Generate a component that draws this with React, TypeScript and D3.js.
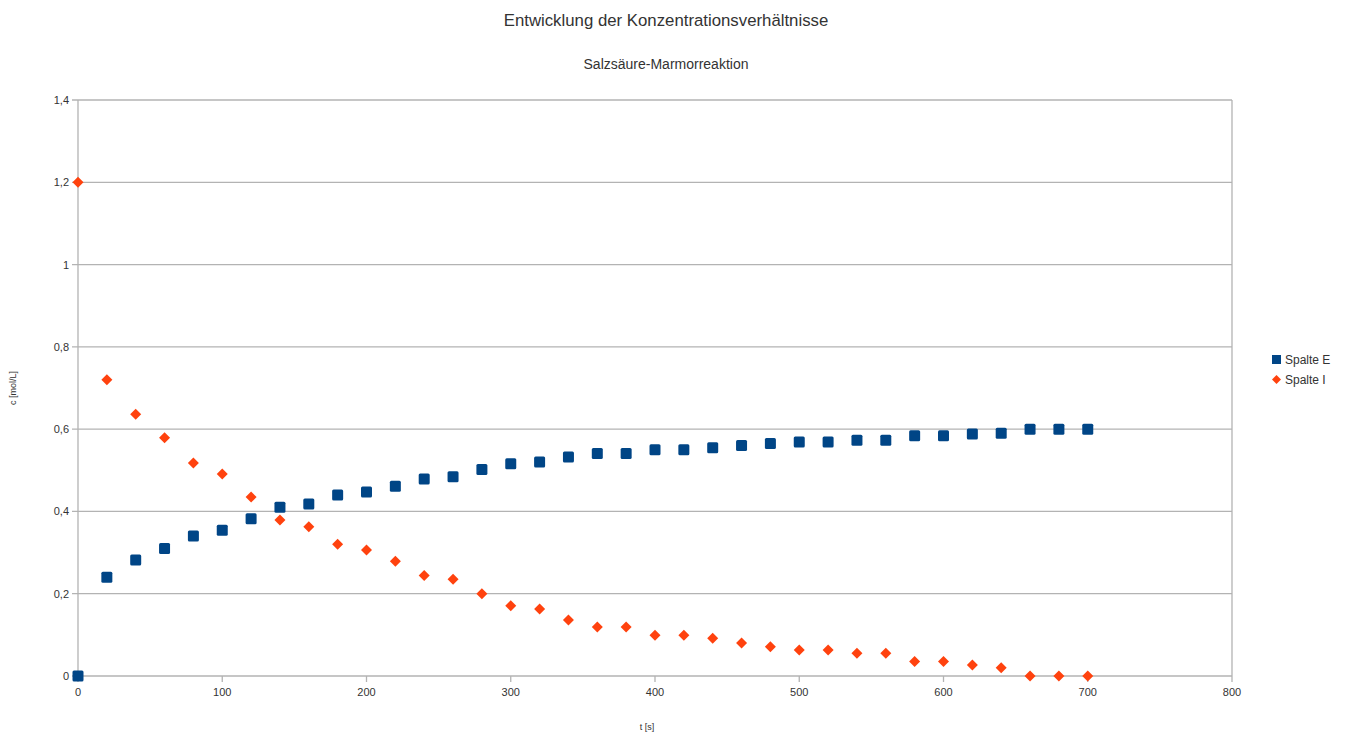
import React from "react";
import * as d3 from "d3";

const times = [
  0, 20, 40, 60, 80, 100, 120, 140, 160, 180, 200, 220, 240, 260, 280, 300,
  320, 340, 360, 380, 400, 420, 440, 460, 480, 500, 520, 540, 560, 580, 600,
  620, 640, 660, 680, 700,
];

// Spalte E
const spalteE = [
  0, 0.24, 0.282, 0.31, 0.34, 0.354, 0.382, 0.41, 0.418, 0.44, 0.447, 0.461,
  0.479, 0.484, 0.502, 0.516, 0.52, 0.532, 0.541, 0.541, 0.55, 0.55, 0.555,
  0.56, 0.565, 0.569, 0.569, 0.573, 0.573, 0.584, 0.584, 0.588, 0.59, 0.6,
  0.6, 0.6,
];

// Spalte I
const spalteI = [
  1.2, 0.72, 0.636, 0.579, 0.518, 0.491, 0.435, 0.379, 0.363, 0.32, 0.306,
  0.279, 0.244, 0.235, 0.2, 0.171, 0.163, 0.136, 0.119, 0.119, 0.099, 0.099,
  0.092, 0.08, 0.071, 0.063, 0.063, 0.055, 0.055, 0.035, 0.035, 0.027, 0.02,
  0, 0, 0,
];

const xTicks = [0, 100, 200, 300, 400, 500, 600, 700, 800];
const yTicks = [0, 0.2, 0.4, 0.6, 0.8, 1, 1.2, 1.4];

const title = "Entwicklung der Konzentrationsverhältnisse";
const subtitle = "Salzsäure-Marmorreaktion";
const xTitle = "t [s]";
const yTitle = "c [mol/L]";
const seriesNames = ["Spalte E", "Spalte I"];

const BLUE = "#004586";
const ORANGE = "#ff420e";
const GRID = "#b3b3b3";

const width = 1347;
const height = 735;
const margin = { top: 100, right: 115, bottom: 59, left: 78 };

const fmt = (v: number) => String(v).replace(".", ",");

export default function App() {
  const x = d3
    .scaleLinear()
    .domain([0, 800])
    .range([margin.left, width - margin.right]);
  const y = d3
    .scaleLinear()
    .domain([0, 1.4])
    .range([height - margin.bottom, margin.top]);

  const diamond = (cx: number, cy: number, r: number) =>
    `M${cx},${cy - r}L${cx + r},${cy}L${cx},${cy + r}L${cx - r},${cy}Z`;

  const font = "'Liberation Sans', Arial, sans-serif";
  const sq = 11;

  return (
    <svg
      width={width}
      height={height}
      style={{ position: "absolute", left: 0, top: 0, background: "#fff" }}
      fontFamily={font}
    >
      <text x={666} y={26} textAnchor="middle" fontSize={16.8} fill="#333">
        {title}
      </text>
      <text x={666} y={69} textAnchor="middle" fontSize={14} fill="#333">
        {subtitle}
      </text>

      {/* grid */}
      {yTicks.map((t) => (
        <g key={`y-${t}`}>
          <line
            x1={x(0) - 6}
            x2={x(800)}
            y1={y(t)}
            y2={y(t)}
            stroke={GRID}
            strokeWidth={1.3}
          />
          <text
            x={x(0) - 9}
            y={y(t) + 4}
            textAnchor="end"
            fontSize={11}
            fill="#333"
          >
            {fmt(t)}
          </text>
        </g>
      ))}
      {xTicks.map((t) => (
        <g key={`x-${t}`}>
          <line
            x1={x(t)}
            x2={x(t)}
            y1={y(0)}
            y2={y(0) + 6}
            stroke={GRID}
            strokeWidth={1.3}
          />
          <text
            x={x(t)}
            y={y(0) + 20}
            textAnchor="middle"
            fontSize={11}
            fill="#333"
          >
            {t}
          </text>
        </g>
      ))}
      <line
        x1={x(0)}
        x2={x(0)}
        y1={y(0)}
        y2={y(1.4)}
        stroke={GRID}
        strokeWidth={1.3}
      />
      <line
        x1={x(800)}
        x2={x(800)}
        y1={y(0)}
        y2={y(1.4)}
        stroke={GRID}
        strokeWidth={1.3}
      />

      <text x={647} y={730} textAnchor="middle" fontSize={9} fill="#333">
        {xTitle}
      </text>
      <text
        transform={`translate(16, ${y(0.7)}) rotate(-90)`}
        textAnchor="middle"
        fontSize={9}
        fill="#333"
      >
        {yTitle}
      </text>

      {/* series */}
      {times.map((t, i) => (
        <rect
          key={`e-${t}`}
          x={x(t) - sq / 2}
          y={y(spalteE[i]) - sq / 2}
          width={sq}
          height={sq}
          rx={1.5}
          fill={BLUE}
        />
      ))}
      {times.map((t, i) => (
        <path
          key={`i-${t}`}
          d={diamond(x(t), y(spalteI[i]), 5.5)}
          fill={ORANGE}
        />
      ))}

      {/* legend */}
      <rect x={1272} y={355} width={9} height={9} fill={BLUE} />
      <text x={1285} y={364} fontSize={12} fill="#333">
        {seriesNames[0]}
      </text>
      <path d={diamond(1276.5, 379.5, 4.5)} fill={ORANGE} />
      <text x={1285} y={384} fontSize={12} fill="#333">
        {seriesNames[1]}
      </text>
    </svg>
  );
}
